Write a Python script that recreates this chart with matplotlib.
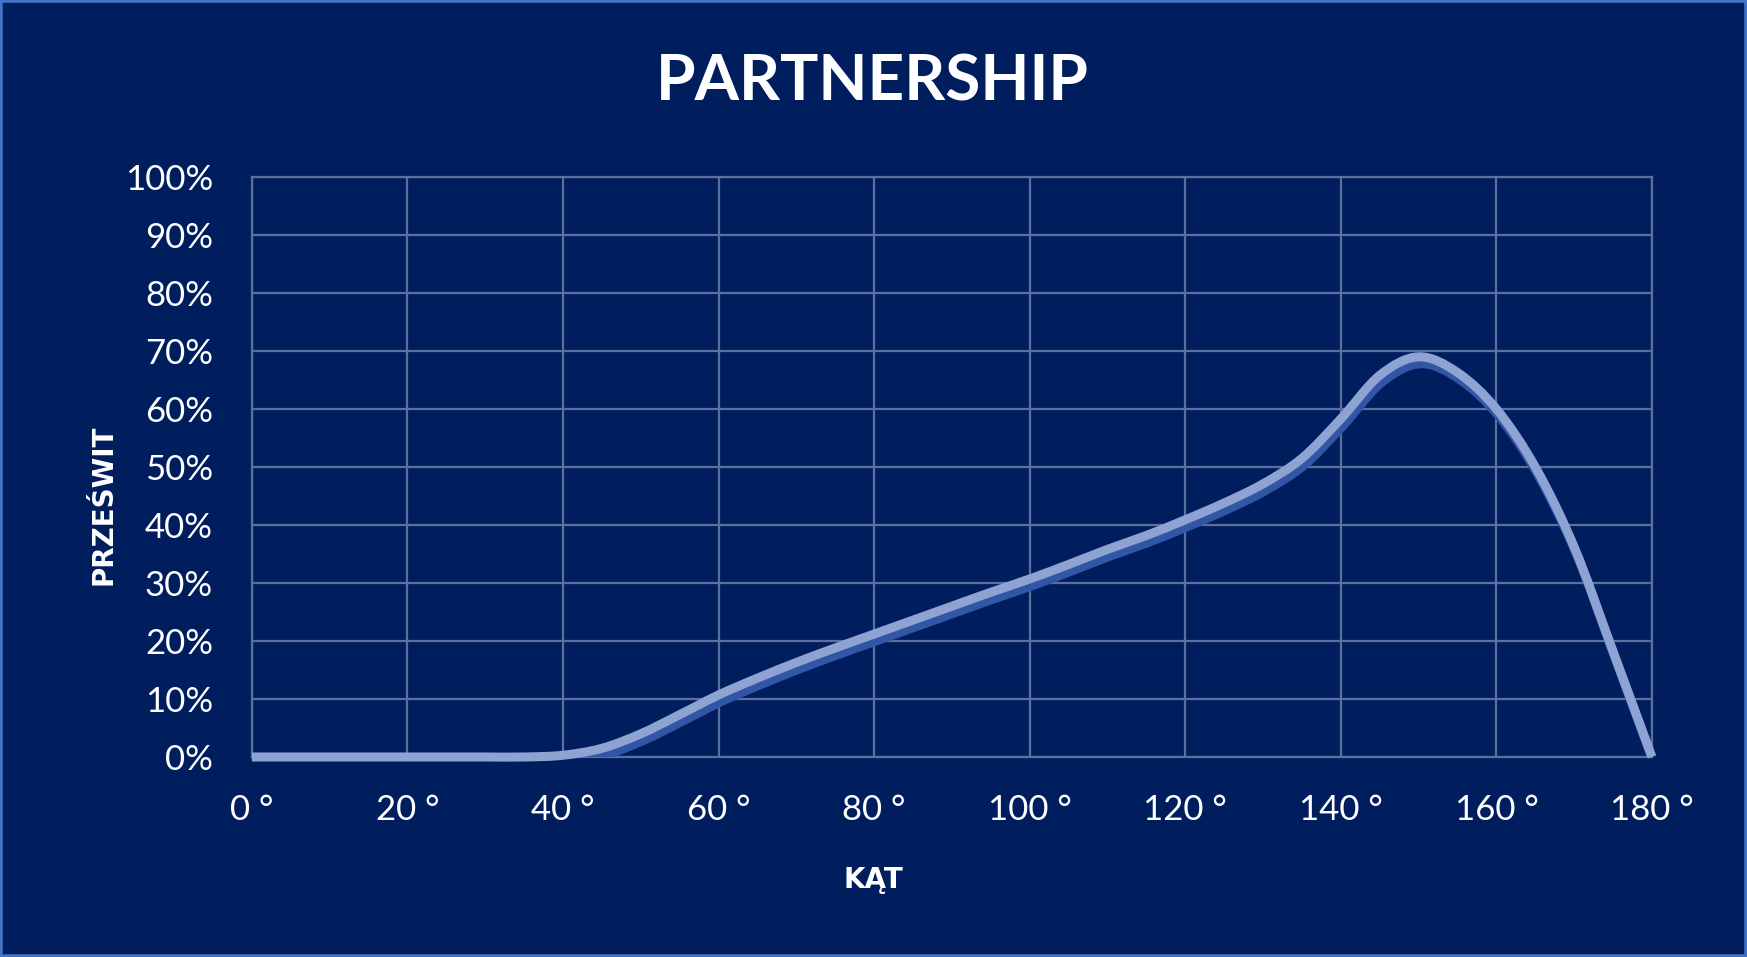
import matplotlib
matplotlib.use("Agg")
import matplotlib.pyplot as plt
import matplotlib.patheffects as pe
from matplotlib.path import Path
from matplotlib.patches import PathPatch, Rectangle
from matplotlib.ticker import PercentFormatter
import numpy as np

# data (angle in degrees, clearance as fraction)
kat = [0, 5, 10, 15, 20, 25, 30, 35, 40, 45, 50, 55, 60, 65, 70, 75, 80, 85, 90,
       95, 100, 105, 110, 115, 120, 125, 130, 135, 140, 145, 150, 155, 160, 165,
       170, 175, 180]
przeswit = [0.0, 0.0, 0.0, 0.0, 0.0, 0.0, 0.0, 0.0, 0.003, 0.015, 0.040, 0.073,
            0.107, 0.136, 0.163, 0.188, 0.212, 0.236, 0.260, 0.284, 0.307, 0.332,
            0.358, 0.382, 0.409, 0.438, 0.471, 0.515, 0.583, 0.658, 0.690, 0.663,
            0.600, 0.500, 0.362, 0.182, 0.0]
x_ticks = [0, 20, 40, 60, 80, 100, 120, 140, 160, 180]
x_labels = ["0 °", "20 °", "40 °", "60 °", "80 °", "100 °", "120 °", "140 °", "160 °", "180 °"]
y_ticks = [0, 0.1, 0.2, 0.3, 0.4, 0.5, 0.6, 0.7, 0.8, 0.9, 1.0]

bg = "#001E5E"
grid_col = "#5D6F9F"
line_col = "#8FA3D3"
shadow_col = "#3156A6"


def smooth_path(xs, ys):
    # excel-like smoothed line: catmull-rom segments as cubic bezier
    pts = np.column_stack([xs, ys]).astype(float)
    n = len(pts)
    verts = [pts[0]]
    codes = [Path.MOVETO]
    for i in range(n - 1):
        p0 = pts[i - 1] if i > 0 else pts[i]
        p1 = pts[i]
        p2 = pts[i + 1]
        p3 = pts[i + 2] if i + 2 < n else pts[i + 1]
        c1 = p1 + (p2 - p0) / 6.0
        c2 = p2 - (p3 - p1) / 6.0
        verts += [c1, c2, p2]
        codes += [Path.CURVE4, Path.CURVE4, Path.CURVE4]
    return Path(verts, codes)


fig = plt.figure(figsize=(17.47, 9.57), dpi=100, facecolor=bg)
ax = fig.add_axes([0.1442, 0.2090, 0.8014, 0.6060])
ax.set_facecolor(bg)

ax.set_xlim(0, 180)
ax.set_ylim(0, 1)
ax.set_xticks(x_ticks)
ax.set_xticklabels(x_labels)
ax.set_yticks(y_ticks)
ax.yaxis.set_major_formatter(PercentFormatter(1.0, decimals=0))

ax.grid(True, color=grid_col, linewidth=1.6)
ax.set_axisbelow(True)
for s in ax.spines.values():
    s.set_color(grid_col)
    s.set_linewidth(1.6)

ax.tick_params(axis="both", length=0, colors="white", labelsize=25)
ax.tick_params(axis="y", pad=28)
ax.tick_params(axis="x", pad=27)
for lab in ax.get_xticklabels() + ax.get_yticklabels():
    lab.set_family("Lato")

path = smooth_path(kat, przeswit)

# shadow stays inside the plot area, the line itself does not
shadow = PathPatch(path, fill=False, edgecolor=shadow_col, linewidth=6.5,
                   capstyle="butt", joinstyle="round", zorder=2.9)
shadow.set_path_effects([pe.SimpleLineShadow(offset=(1.5, -5.0), shadow_color=shadow_col,
                                             alpha=1.0)])
ax.add_patch(shadow)

curve = PathPatch(path, fill=False, edgecolor=line_col, linewidth=6.5,
                  capstyle="butt", joinstyle="round", zorder=3, clip_on=False)
ax.add_patch(curve)

fig.text(0.4995, 0.8945, "PARTNERSHIP", color="white", fontsize=46,
         fontweight="bold", family="Lato", ha="center", va="baseline")
fig.text(0.4998, 0.0721, "KĄT", color="white", fontsize=20, fontweight="bold",
         family="DejaVu Sans", ha="center", va="baseline")
fig.text(0.0595, 0.4723, "PRZEŚWIT", color="white", fontsize=20, fontweight="bold",
         family="DejaVu Sans", ha="center", va="center", rotation=90)

fig.patches.append(Rectangle((0, 0), 1, 1, transform=fig.transFigure, fill=False,
                             edgecolor="#4472C4", linewidth=4))

fig.savefig("out.png", dpi=100, facecolor=bg)
